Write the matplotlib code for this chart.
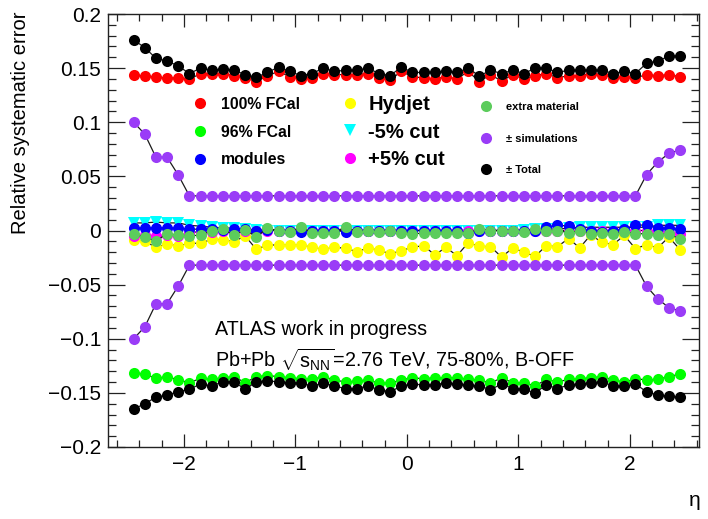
import matplotlib
matplotlib.use("Agg")
import matplotlib.pyplot as plt
from matplotlib.lines import Line2D
from matplotlib.ticker import MultipleLocator, FixedLocator

plt.rcParams['font.family'] = ['Liberation Sans', 'DejaVu Sans']
plt.rcParams['mathtext.fontset'] = 'custom'
plt.rcParams['mathtext.rm'] = 'Liberation Sans'
plt.rcParams['mathtext.it'] = 'Liberation Sans:italic'

# eta bin centres
eta = [-2.45, -2.35, -2.25, -2.15, -2.05, -1.95, -1.85, -1.75, -1.65, -1.55,
       -1.45, -1.35, -1.25, -1.15, -1.05, -0.95, -0.85, -0.75, -0.65, -0.55,
       -0.45, -0.35, -0.25, -0.15, -0.05, 0.05, 0.15, 0.25, 0.35, 0.45,
       0.55, 0.65, 0.75, 0.85, 0.95, 1.05, 1.15, 1.25, 1.35, 1.45,
       1.55, 1.65, 1.75, 1.85, 1.95, 2.05, 2.15, 2.25, 2.35, 2.45]

fcal100 = [0.1437, 0.1427, 0.142, 0.1406, 0.141, 0.1397, 0.145, 0.145, 0.145, 0.143,
           0.141, 0.1375, 0.143, 0.147, 0.142, 0.140, 0.141, 0.145, 0.144, 0.144,
           0.144, 0.145, 0.141, 0.139, 0.147, 0.142, 0.141, 0.140, 0.142, 0.140,
           0.147, 0.1375, 0.144, 0.138, 0.144, 0.140, 0.143, 0.145, 0.141, 0.143,
           0.143, 0.145, 0.144, 0.141, 0.142, 0.141, 0.144, 0.143, 0.144, 0.142]

fcal96 = [-0.1313, -0.1326, -0.1366, -0.135, -0.138, -0.1406, -0.1366, -0.1375, -0.136, -0.135,
          -0.1406, -0.135, -0.134, -0.135, -0.136, -0.137, -0.1375, -0.135, -0.138, -0.140,
          -0.139, -0.138, -0.141, -0.141, -0.138, -0.136, -0.137, -0.136, -0.136, -0.136,
          -0.1375, -0.138, -0.141, -0.136, -0.1406, -0.1406, -0.1437, -0.1375, -0.140, -0.1375,
          -0.137, -0.136, -0.135, -0.138, -0.140, -0.137, -0.138, -0.1375, -0.135, -0.1326]

modules = [0.002, 0.002, 0.0025, 0.002, 0.002, 0.0015, 0.001, 0.001, 0.0005, 0.001,
           0.001, 0.0, 0.0005, 0.0, 0.0, -0.001, 0.0, 0.0, 0.0, -0.001,
           0.0, 0.0, 0.0, 0.0, 0.0, 0.0, 0.0, 0.0, 0.0, 0.0,
           -0.002, 0.0, 0.0, 0.0, 0.0, 0.0, 0.0, 0.003, 0.005, 0.004,
           0.001, 0.0, -0.001, 0.0, 0.001, 0.005, 0.005, 0.002, 0.002, 0.001]

hydjet = [-0.0088, -0.010, -0.0155, -0.0125, -0.0143, -0.0118, -0.0118, -0.0081, -0.0085, -0.0103,
          -0.005, -0.0174, -0.0134, -0.0134, -0.013, -0.0134, -0.0155, -0.0174, -0.0155, -0.0164,
          -0.0195, -0.0164, -0.018, -0.0217, -0.0186, -0.0155, -0.014, -0.0225, -0.0157, -0.0232,
          -0.0114, -0.0146, -0.0149, -0.0245, -0.0161, -0.020, -0.0239, -0.014, -0.015, -0.0074,
          -0.016, -0.004, -0.011, -0.013, -0.0045, -0.0168, -0.0131, -0.016, -0.006, -0.0177]

cut_minus5 = [0.007, 0.007, 0.0078, 0.007, 0.007, 0.0048, 0.004, 0.003, 0.0025, 0.002,
              0.0015, 0.0005, 0.0, 0.0, 0.0, 0.0, 0.0, 0.0, 0.0, 0.0,
              0.0, 0.0, 0.0, 0.0, 0.0, 0.0, 0.0, 0.0, 0.0, 0.0,
              0.0, 0.0, 0.0, 0.0, 0.0, 0.0005, 0.001, 0.001, 0.0015, 0.002,
              0.003, 0.003, 0.003, 0.003, 0.003, 0.003, 0.003, 0.0048, 0.0048, 0.0048]

cut_plus5 = [-0.005, -0.004, -0.005, -0.004, -0.005, -0.002, -0.001, -0.001, 0.0, 0.0,
             0.0, 0.0, 0.0, 0.0, 0.0, 0.0, 0.0, 0.0, 0.0, 0.0,
             0.0, 0.0, 0.0, 0.0, 0.0, 0.0, 0.0, 0.0, 0.0, 0.0,
             0.0, 0.0, 0.0, 0.0, 0.0, 0.0, 0.0, 0.0, 0.0, 0.0,
             0.0, 0.0, 0.0, 0.0, 0.0, 0.0, 0.0, -0.001, -0.002, -0.003]

extra_material = [-0.0032, -0.0063, -0.0094, -0.0032, -0.0042, -0.005, -0.0042, -0.0002, 0.001, -0.0042,
                  0.0005, -0.0057, 0.002, -0.0002, -0.001, 0.003, -0.002, -0.002, -0.002, 0.0035,
                  -0.001, -0.0002, -0.001, 0.0, -0.002, -0.003, -0.0025, -0.002, -0.002, -0.002,
                  -0.002, 0.001, 0.0, 0.0, 0.0, -0.001, 0.001, 0.0, 0.0, -0.002,
                  0.0, -0.003, -0.002, -0.003, -0.001, -0.003, -0.003, -0.004, -0.003, -0.008]

simulations = [0.100, 0.089, 0.0676, 0.0676, 0.0513, 0.032, 0.032, 0.032, 0.032, 0.032,
               0.032, 0.032, 0.032, 0.032, 0.032, 0.032, 0.032, 0.032, 0.032, 0.032,
               0.032, 0.032, 0.032, 0.032, 0.032, 0.032, 0.032, 0.032, 0.032, 0.032,
               0.032, 0.032, 0.032, 0.032, 0.032, 0.032, 0.032, 0.032, 0.032, 0.032,
               0.032, 0.032, 0.032, 0.032, 0.032, 0.032, 0.0516, 0.0632, 0.0712, 0.0745]

total_up = [0.176, 0.169, 0.159, 0.1566, 0.152, 0.145, 0.150, 0.148, 0.149, 0.148,
            0.144, 0.1415, 0.146, 0.151, 0.147, 0.143, 0.145, 0.150, 0.147, 0.148,
            0.148, 0.150, 0.145, 0.143, 0.151, 0.146, 0.146, 0.146, 0.147, 0.146,
            0.150, 0.1427, 0.148, 0.145, 0.148, 0.145, 0.150, 0.150, 0.146, 0.148,
            0.148, 0.148, 0.148, 0.145, 0.147, 0.145, 0.1545, 0.1566, 0.161, 0.161]

total_down = [-0.165, -0.160, -0.154, -0.152, -0.149, -0.1467, -0.1418, -0.1437, -0.1397, -0.1397,
              -0.1467, -0.1397, -0.139, -0.1397, -0.1406, -0.141, -0.1437, -0.141, -0.1437, -0.146,
              -0.146, -0.1437, -0.147, -0.149, -0.1437, -0.1418, -0.1427, -0.1427, -0.1406, -0.1418,
              -0.1427, -0.1437, -0.147, -0.1418, -0.146, -0.1467, -0.150, -0.1427, -0.146, -0.1427,
              -0.1418, -0.1406, -0.1397, -0.1437, -0.144, -0.1418, -0.149, -0.152, -0.153, -0.154]

C_RED, C_GREEN, C_BLUE = '#ff0000', '#00ff00', '#0000ff'
C_YELLOW, C_CYAN, C_MAGENTA = '#ffff00', '#00ffff', '#ff00ff'
C_EXTRA, C_SIM, C_TOT = '#5ccc5c', '#9a3cf7', '#000000'

W, H = 708, 519
fig = plt.figure(figsize=(W / 100, H / 100), dpi=100)
L, R, T, B = 108, 699, 14, 447
ax = fig.add_axes([L / W, 1 - B / H, (R - L) / W, (B - T) / H])

line_kw = dict(color='#1a1a1a', lw=0.9)


def draw(y, col, marker='o', ms=8.0):
    ax.plot(eta, y, ls='-', **line_kw, marker=marker, ms=ms, mfc=col, mec=col, mew=0)


draw(fcal100, C_RED)
draw(fcal96, C_GREEN)
draw(hydjet, C_YELLOW)
draw(cut_minus5, C_CYAN, marker='v', ms=8.5)
draw(cut_plus5, C_MAGENTA)
draw(modules, C_BLUE)
draw(extra_material, C_EXTRA)
draw(simulations, C_SIM)
draw([-v for v in simulations], C_SIM)
draw(total_up, C_TOT)
draw(total_down, C_TOT)

ax.set_xlim(-2.68, 2.62)
ax.set_ylim(-0.2, 0.2)
ax.xaxis.set_major_locator(FixedLocator([-2, -1, 0, 1, 2]))
ax.xaxis.set_minor_locator(MultipleLocator(0.2))
ax.yaxis.set_major_locator(MultipleLocator(0.05))
ax.yaxis.set_minor_locator(MultipleLocator(0.01))
ax.set_xticklabels(['\u22122', '\u22121', '0', '1', '2'])
ax.set_yticks([-0.2, -0.15, -0.1, -0.05, 0, 0.05, 0.1, 0.15, 0.2])
ax.set_yticklabels(['\u22120.2', '\u22120.15', '\u22120.1', '\u22120.05', '0',
                    '0.05', '0.1', '0.15', '0.2'])
ax.tick_params(axis='both', which='both', direction='in', top=True, right=True,
               labelsize=15, width=0.9, color='#222222')
ax.tick_params(axis='x', which='major', length=9.5, pad=6)
ax.tick_params(axis='x', which='minor', length=4.8)
ax.tick_params(axis='y', which='major', length=12.5, pad=5)
ax.tick_params(axis='y', which='minor', length=6)
for s in ax.spines.values():
    s.set_linewidth(1.0)
    s.set_color('#222222')

fig.text(21 / W, 1 - 12 / H, 'Relative systematic error', rotation=90,
         ha='center', va='top', fontsize=14.5)
fig.text(701 / W, 1 - 500 / H, '\u03b7', ha='right', va='center', fontsize=15)

fig.text(215 / W, 1 - 335 / H, 'ATLAS work in progress', fontsize=14.2,
         va='baseline', ha='left')
fig.text(215 / W, 1 - 367 / H,
         r'Pb+Pb $\sqrt{\mathrm{s}_{\mathrm{NN}}}$=2.76 TeV, 75-80%, B-OFF',
         fontsize=14.2, va='baseline', ha='left')


def handle(col, marker='o', ms=8.0):
    return Line2D([], [], ls='none', marker=marker, ms=ms, mfc=col, mec=col, mew=0)


def add_legend(handles, labels, x_left, y_mid, fsize, hlen, tpad, lspace):
    leg = fig.legend(handles, labels, loc='center left',
                     bbox_to_anchor=(x_left / W, 1 - y_mid / H),
                     bbox_transform=fig.transFigure, frameon=False,
                     borderpad=0, borderaxespad=0, handlelength=hlen,
                     handletextpad=tpad, labelspacing=lspace, numpoints=1,
                     prop=dict(family=['Liberation Sans', 'DejaVu Sans'],
                               weight='bold', size=fsize))
    return leg


add_legend([handle(C_RED), handle(C_GREEN), handle(C_BLUE)],
           ['100% FCal', '96% FCal', 'modules'],
           192, 132, 11.4, 1.0, 0.82, 0.80)
add_legend([handle(C_YELLOW), handle(C_CYAN, 'v', 8.5), handle(C_MAGENTA)],
           ['Hydjet', '-5% cut', '+5% cut'],
           342, 132, 14.5, 0.8, 0.5, 0.44)
add_legend([handle(C_EXTRA), handle(C_SIM), handle(C_TOT)],
           ['extra material', '\u00b1 simulations', '\u00b1 Total'],
           478, 138.5, 8.0, 1.5, 1.05, 1.94)

fig.savefig('out.png', dpi=100)
